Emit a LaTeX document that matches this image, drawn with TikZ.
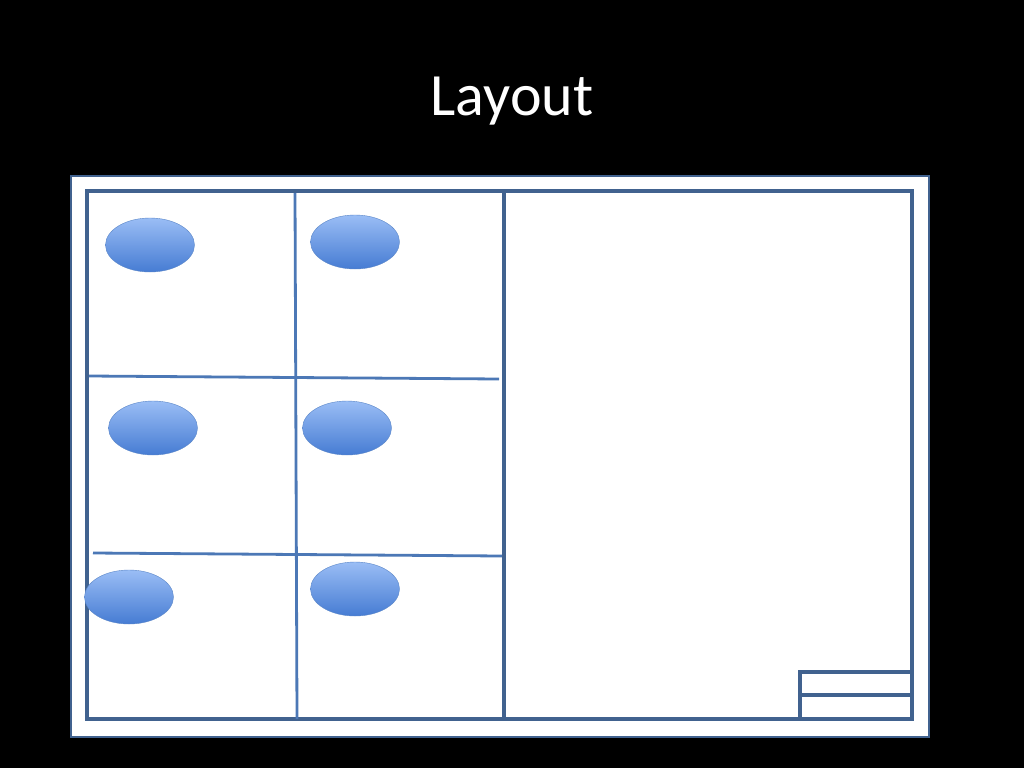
\documentclass[tikz,border=0pt]{standalone}
\usepackage{fontspec}
\setmainfont{Carlito}
\usepackage{xcolor}
\usetikzlibrary{shapes.geometric, positioning}
\definecolor{framec}{HTML}{41628F}
\definecolor{splitc}{HTML}{4C78B6}
\definecolor{ovaltop}{HTML}{9ABDF5}
\definecolor{ovalbot}{HTML}{467CD3}
\definecolor{ovalline}{HTML}{5A86C8}

\begin{document}
\begin{tikzpicture}[x=1pt, y=-1pt,
    oval/.style={ellipse, draw=ovalline, thin, top color=ovaltop, bottom color=ovalbot, minimum width=89pt, minimum height=54pt, inner sep=0pt},
    grid/.style={framec, line width=3.2pt},
    split/.style={splitc, line width=2.8pt},
    frame/.style={draw=framec, line width=2.2pt, fill=white}]

    \fill [black] (0,0) rectangle (1024,768);
    \useasboundingbox (0,0) rectangle (1024,768);

    \node [font=\fontsize{60}{70}\selectfont, text=white] (title) at (512,101) {Layout};

    \draw [frame] (71,176) rectangle (929,737);
    \draw [grid] (87,191) rectangle (912,719);

    % cells on the left
    \draw [split] (295,193) -- (297,719);
    \draw [grid] (504,191) -- (504,719);
    \draw [split] (89,376) -- (499,379);
    \draw [split] (93,553) -- (502,556);

    % title block
    \draw [grid] (800,719) -- (800,672) -- (912,672);
    \draw [grid] (800,695) -- (912,695);

    \node [oval] (a1) at (150,245) {};
    \node [oval] (a2) at (355,242) {};
    \node [oval] (b1) at (153,428) {};
    \node [oval] (b2) at (347,428) {};
    \node [oval] (c1) at (129,597) {};
    \node [oval] (c2) at (355,589) {};
\end{tikzpicture}
\end{document}
